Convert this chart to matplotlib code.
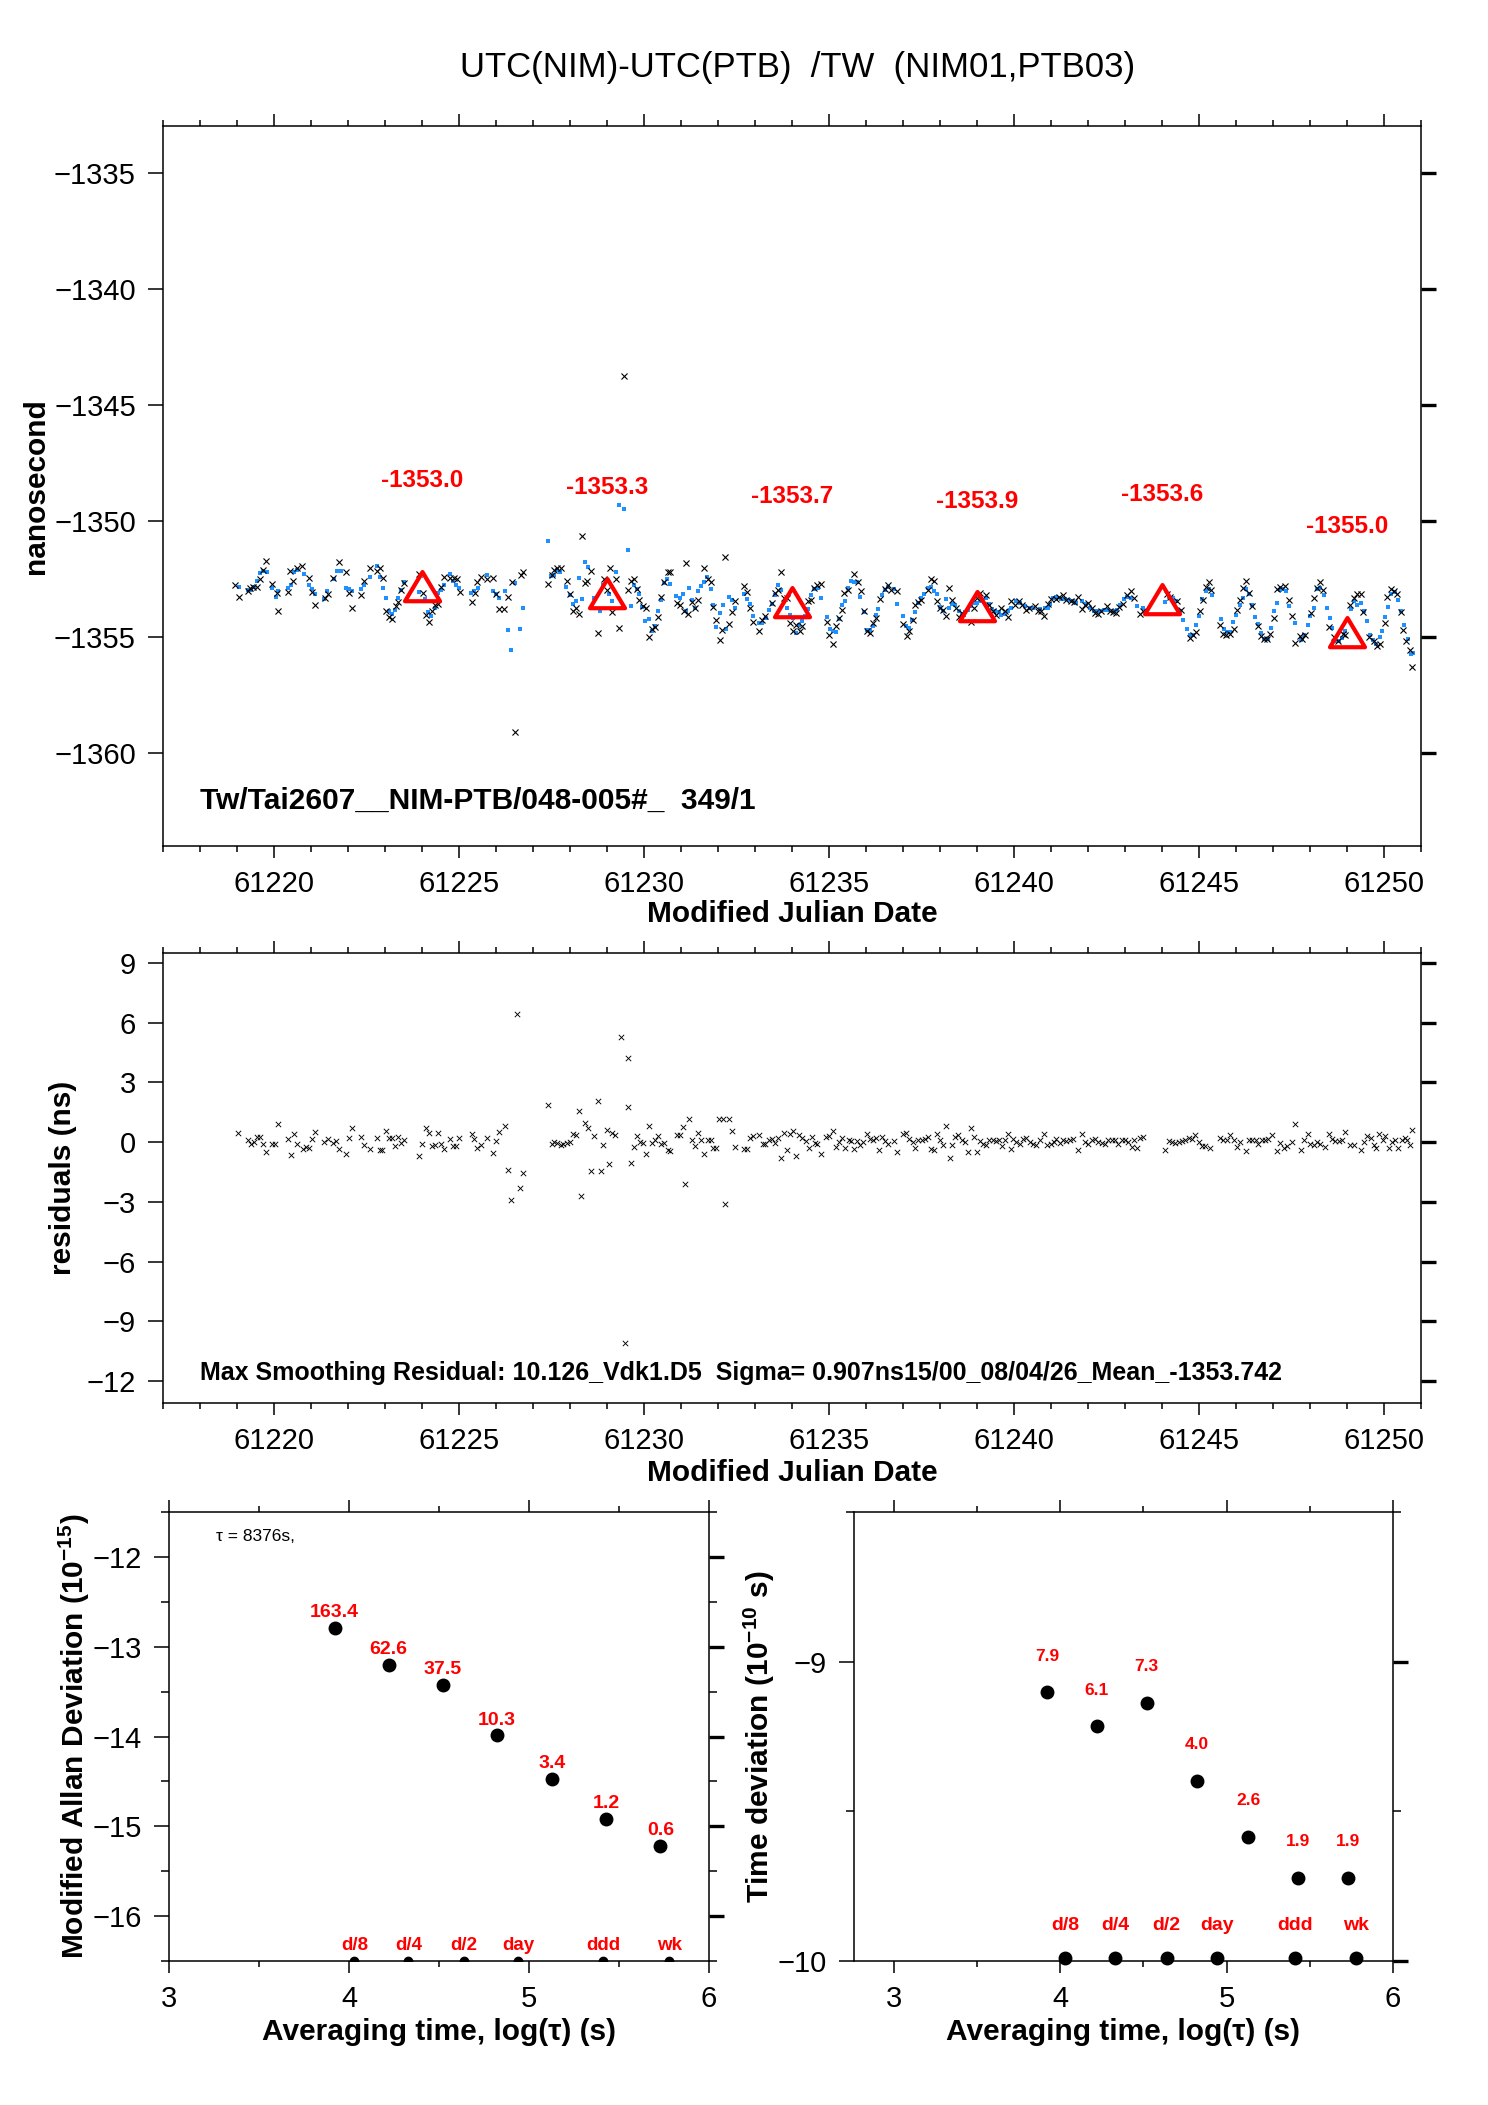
import numpy as np
import matplotlib
matplotlib.use('Agg')
import matplotlib.pyplot as plt
from matplotlib.path import Path
from matplotlib.ticker import MultipleLocator

plt.rcParams['font.family'] = ['Liberation Sans', 'DejaVu Sans']
plt.rcParams['mathtext.fontset'] = 'custom'
plt.rcParams['mathtext.rm'] = 'Liberation Sans'
plt.rcParams['mathtext.bf'] = 'Liberation Sans:bold'
plt.rcParams['axes.formatter.useoffset'] = False

# raw TW measurements (MJD, ns), black crosses
raw_pts = [
    (61218.95, -1352.75), (61219.05, -1353.26), (61219.29, -1353.01), (61219.36, -1352.90), (61219.43, -1352.83),
    (61219.53, -1352.83), (61219.62, -1352.51), (61219.71, -1352.11), (61219.79, -1351.72), (61219.96, -1352.70),
    (61220.07, -1353.11), (61220.12, -1353.90), (61220.37, -1353.05), (61220.43, -1352.14), (61220.52, -1352.57),
    (61220.61, -1352.04), (61220.77, -1351.94), (61220.95, -1352.48), (61221.04, -1353.07), (61221.12, -1353.64),
    (61221.37, -1353.33), (61221.46, -1353.15), (61221.61, -1352.47), (61221.77, -1351.78), (61221.95, -1352.22),
    (61222.03, -1353.11), (61222.11, -1353.76), (61222.36, -1353.18), (61222.44, -1352.58), (61222.61, -1352.04),
    (61222.78, -1352.14), (61222.87, -1352.04), (61222.95, -1352.48), (61223.03, -1353.86), (61223.12, -1354.16),
    (61223.20, -1354.21), (61223.29, -1353.66), (61223.36, -1353.51), (61223.44, -1352.97), (61223.51, -1352.68),
    (61223.93, -1352.30), (61224.03, -1353.11), (61224.10, -1354.07), (61224.18, -1354.36), (61224.27, -1353.87),
    (61224.34, -1353.64), (61224.43, -1353.58), (61224.51, -1352.85), (61224.61, -1352.41), (61224.76, -1352.44),
    (61224.87, -1352.44), (61224.95, -1352.51), (61225.02, -1353.07), (61225.34, -1353.48), (61225.43, -1353.11),
    (61225.50, -1352.63), (61225.59, -1352.41), (61225.75, -1352.51), (61225.93, -1352.47), (61226.00, -1353.15),
    (61226.08, -1353.78), (61226.23, -1353.78), (61226.33, -1353.28), (61226.43, -1352.63), (61226.51, -1359.09),
    (61226.67, -1352.33), (61226.74, -1352.18), (61227.41, -1352.70), (61227.51, -1352.33), (61227.58, -1352.11),
    (61227.66, -1352.04), (61227.75, -1352.04), (61227.91, -1352.61), (61227.99, -1353.15), (61228.08, -1353.90),
    (61228.17, -1353.76), (61228.24, -1354.01), (61228.33, -1350.64), (61228.40, -1352.68), (61228.47, -1352.61),
    (61228.58, -1352.14), (61228.75, -1354.83), (61228.92, -1352.51), (61229.00, -1352.97), (61229.07, -1352.04),
    (61229.15, -1353.94), (61229.24, -1352.50), (61229.32, -1354.61), (61229.47, -1343.76), (61229.58, -1352.98),
    (61229.66, -1352.57), (61229.73, -1352.51), (61229.82, -1352.95), (61229.88, -1353.40), (61229.97, -1353.68),
    (61230.06, -1353.76), (61230.13, -1355.01), (61230.22, -1354.66), (61230.31, -1354.59), (61230.38, -1354.16),
    (61230.47, -1353.26), (61230.55, -1352.65), (61230.64, -1352.22), (61230.71, -1352.21), (61230.89, -1353.54),
    (61230.97, -1353.64), (61231.07, -1353.90), (61231.14, -1351.80), (61231.20, -1354.01), (61231.29, -1353.50),
    (61231.38, -1353.73), (61231.47, -1353.40), (61231.63, -1352.02), (61231.72, -1352.51), (61231.81, -1352.65),
    (61231.87, -1353.71), (61231.96, -1354.26), (61232.05, -1355.13), (61232.11, -1354.70), (61232.20, -1351.57),
    (61232.29, -1354.44), (61232.38, -1353.94), (61232.45, -1353.44), (61232.70, -1352.80), (61232.79, -1353.05),
    (61232.87, -1353.73), (61232.95, -1354.36), (61233.12, -1354.73), (61233.20, -1354.26), (61233.28, -1354.08),
    (61233.46, -1353.54), (61233.53, -1353.11), (61233.62, -1352.97), (61233.71, -1352.18), (61233.79, -1353.30),
    (61233.87, -1353.33), (61233.94, -1354.40), (61234.02, -1354.76), (61234.12, -1354.47), (61234.21, -1354.76),
    (61234.28, -1354.54), (61234.44, -1353.47), (61234.52, -1353.40), (61234.61, -1352.90), (61234.69, -1352.75),
    (61234.78, -1352.70), (61234.94, -1354.37), (61235.01, -1354.90), (61235.10, -1355.29), (61235.19, -1354.53),
    (61235.26, -1354.18), (61235.35, -1353.84), (61235.42, -1353.11), (61235.51, -1352.98), (61235.68, -1352.28),
    (61235.78, -1352.65), (61235.87, -1353.01), (61235.94, -1353.90), (61236.02, -1354.76), (61236.11, -1354.83),
    (61236.20, -1354.40), (61236.28, -1354.18), (61236.37, -1353.36), (61236.51, -1352.94), (61236.60, -1352.75),
    (61236.69, -1352.97), (61236.85, -1353.01), (61237.01, -1354.44), (61237.10, -1354.96), (61237.17, -1354.76),
    (61237.26, -1354.26), (61237.34, -1353.64), (61237.42, -1353.50), (61237.50, -1353.41), (61237.67, -1352.97),
    (61237.76, -1352.51), (61237.85, -1352.61), (61237.92, -1353.47), (61238.01, -1353.76), (61238.08, -1353.83),
    (61238.17, -1354.11), (61238.25, -1352.87), (61238.34, -1353.40), (61238.43, -1353.73), (61238.52, -1354.16),
    (61238.60, -1353.97), (61238.84, -1354.37), (61238.91, -1353.76), (61239.00, -1353.33), (61239.09, -1353.11),
    (61239.25, -1353.21), (61239.34, -1353.64), (61239.43, -1353.87), (61239.51, -1354.04), (61239.66, -1353.76),
    (61239.75, -1353.90), (61239.84, -1354.13), (61239.91, -1353.47), (61240.02, -1353.61), (61240.14, -1353.44),
    (61240.23, -1353.64), (61240.34, -1353.83), (61240.41, -1353.76), (61240.57, -1353.68), (61240.66, -1353.87),
    (61240.73, -1353.90), (61240.82, -1354.08), (61240.91, -1353.56), (61241.00, -1353.37), (61241.13, -1353.37),
    (61241.22, -1353.27), (61241.33, -1353.21), (61241.42, -1353.40), (61241.53, -1353.47), (61241.63, -1353.51),
    (61241.74, -1353.27), (61241.83, -1353.78), (61241.92, -1353.64), (61242.01, -1353.54), (61242.10, -1353.73),
    (61242.19, -1353.97), (61242.26, -1354.00), (61242.35, -1353.87), (61242.51, -1353.68), (61242.60, -1353.87),
    (61242.69, -1353.94), (61242.76, -1353.97), (61242.85, -1353.71), (61242.94, -1353.58), (61243.07, -1353.18),
    (61243.16, -1353.01), (61243.25, -1353.30), (61243.41, -1354.00), (61243.50, -1353.87), (61244.13, -1353.15),
    (61244.22, -1353.26), (61244.40, -1353.47), (61244.52, -1353.83), (61244.76, -1355.04), (61244.85, -1354.90),
    (61244.92, -1354.79), (61245.02, -1353.90), (61245.10, -1353.40), (61245.18, -1352.83), (61245.27, -1352.64),
    (61245.34, -1352.97), (61245.58, -1354.47), (61245.65, -1354.87), (61245.74, -1354.93), (61245.83, -1354.87),
    (61245.94, -1354.66), (61246.03, -1353.83), (61246.10, -1353.41), (61246.19, -1352.90), (61246.27, -1352.58),
    (61246.35, -1353.11), (61246.43, -1353.68), (61246.61, -1354.54), (61246.68, -1354.94), (61246.75, -1355.09),
    (61246.84, -1355.09), (61246.93, -1354.87), (61247.02, -1354.18), (61247.11, -1352.94), (61247.20, -1352.85),
    (61247.34, -1352.80), (61247.43, -1353.40), (61247.52, -1354.11), (61247.61, -1355.26), (61247.74, -1354.97),
    (61247.79, -1355.09), (61247.88, -1354.93), (61248.03, -1353.97), (61248.10, -1353.33), (61248.19, -1352.90),
    (61248.28, -1352.65), (61248.35, -1352.97), (61248.51, -1354.57), (61248.64, -1355.02), (61248.75, -1355.16),
    (61248.90, -1354.87), (61248.96, -1354.90), (61249.09, -1353.61), (61249.18, -1353.30), (61249.27, -1353.15),
    (61249.37, -1353.15), (61249.44, -1353.93), (61249.59, -1355.02), (61249.73, -1355.19), (61249.82, -1355.40),
    (61249.89, -1355.30), (61250.04, -1354.40), (61250.09, -1353.26), (61250.18, -1352.94), (61250.27, -1353.01),
    (61250.36, -1353.15), (61250.45, -1353.94), (61250.52, -1354.69), (61250.61, -1355.19), (61250.70, -1355.54),
    (61250.77, -1356.29),
]

# smoothed series (MJD, ns), blue dots
smooth_pts = [
    (61219.05, -1352.83), (61219.30, -1352.96), (61219.39, -1352.98), (61219.46, -1352.83), (61219.54, -1352.61),
    (61219.62, -1352.25), (61219.71, -1352.15), (61219.81, -1352.22), (61219.96, -1352.87), (61220.05, -1353.26),
    (61220.12, -1353.04), (61220.37, -1352.91), (61220.45, -1352.78), (61220.54, -1352.18), (61220.63, -1352.11),
    (61220.80, -1352.27), (61220.95, -1352.78), (61221.03, -1352.93), (61221.12, -1353.13), (61221.36, -1353.37),
    (61221.44, -1353.04), (61221.62, -1352.51), (61221.71, -1352.14), (61221.80, -1352.17), (61221.95, -1352.87),
    (61222.03, -1352.94), (61222.11, -1353.04), (61222.35, -1352.94), (61222.43, -1352.78), (61222.61, -1352.40),
    (61222.78, -1351.94), (61222.87, -1352.40), (61222.94, -1352.91), (61223.03, -1353.33), (61223.11, -1353.90),
    (61223.19, -1354.03), (61223.27, -1353.83), (61223.36, -1353.30), (61223.44, -1352.98), (61223.52, -1352.64),
    (61223.93, -1353.05), (61224.09, -1353.35), (61224.17, -1353.94), (61224.25, -1354.11), (61224.34, -1353.73),
    (61224.43, -1353.10), (61224.51, -1352.97), (61224.61, -1352.74), (61224.76, -1352.27), (61224.85, -1352.57),
    (61224.93, -1352.74), (61225.00, -1352.88), (61225.33, -1353.11), (61225.42, -1353.01), (61225.51, -1352.91),
    (61225.75, -1352.31), (61225.91, -1353.03), (61226.00, -1353.15), (61226.08, -1353.33), (61226.25, -1353.03),
    (61226.33, -1354.71), (61226.41, -1355.54), (61226.51, -1352.67), (61226.66, -1354.64), (61226.74, -1353.77),
    (61227.41, -1350.87), (61227.50, -1352.37), (61227.57, -1352.33), (61227.66, -1352.11), (61227.74, -1352.18),
    (61227.90, -1352.83), (61227.99, -1353.21), (61228.07, -1353.56), (61228.16, -1353.47), (61228.25, -1352.48),
    (61228.33, -1353.37), (61228.41, -1351.78), (61228.49, -1351.97), (61228.65, -1353.30), (61228.81, -1353.86),
    (61228.90, -1352.75), (61229.06, -1353.15), (61229.15, -1353.47), (61229.24, -1352.18), (61229.32, -1349.30),
    (61229.40, -1353.77), (61229.45, -1349.50), (61229.56, -1351.24), (61229.64, -1353.66), (61229.72, -1352.78),
    (61229.80, -1352.93), (61229.88, -1353.16), (61229.95, -1353.70), (61230.04, -1354.33), (61230.13, -1354.23),
    (61230.22, -1354.76), (61230.31, -1354.54), (61230.39, -1353.90), (61230.47, -1353.41), (61230.55, -1352.67),
    (61230.63, -1352.51), (61230.71, -1352.73), (61230.88, -1353.23), (61230.97, -1353.33), (61231.05, -1353.14),
    (61231.14, -1353.90), (61231.22, -1352.87), (61231.31, -1353.40), (61231.38, -1353.76), (61231.46, -1353.00),
    (61231.55, -1352.80), (61231.63, -1352.64), (61231.71, -1352.40), (61231.80, -1352.94), (61231.87, -1353.61),
    (61231.96, -1354.59), (61232.05, -1353.97), (61232.13, -1353.64), (61232.21, -1354.66), (61232.29, -1353.26),
    (61232.37, -1353.41), (61232.45, -1353.73), (61232.70, -1353.13), (61232.79, -1353.38), (61232.87, -1353.57),
    (61232.95, -1354.10), (61233.12, -1354.40), (61233.20, -1354.41), (61233.29, -1354.18), (61233.37, -1353.83),
    (61233.45, -1353.58), (61233.53, -1353.18), (61233.62, -1352.77), (61233.71, -1352.97), (61233.88, -1353.76),
    (61233.96, -1354.04), (61234.04, -1354.18), (61234.11, -1354.84), (61234.20, -1354.47), (61234.28, -1354.29),
    (61234.36, -1354.10), (61234.44, -1353.80), (61234.52, -1353.21), (61234.61, -1352.93), (61234.70, -1352.91),
    (61234.78, -1353.33), (61234.95, -1354.13), (61235.03, -1354.66), (61235.11, -1354.76), (61235.19, -1354.80),
    (61235.27, -1354.21), (61235.35, -1353.64), (61235.43, -1353.43), (61235.52, -1352.87), (61235.60, -1352.58),
    (61235.68, -1352.64), (61235.76, -1352.65), (61235.85, -1353.28), (61235.94, -1353.94), (61236.02, -1354.70),
    (61236.11, -1354.70), (61236.19, -1354.51), (61236.26, -1354.06), (61236.34, -1353.80), (61236.43, -1353.20),
    (61236.51, -1352.97), (61236.60, -1352.85), (61236.76, -1352.93), (61236.85, -1353.56), (61237.01, -1354.11),
    (61237.09, -1354.54), (61237.17, -1354.61), (61237.25, -1354.27), (61237.33, -1353.94), (61237.41, -1353.54),
    (61237.50, -1353.33), (61237.58, -1353.15), (61237.67, -1352.90), (61237.75, -1352.83), (61237.83, -1353.04),
    (61237.92, -1353.13), (61238.01, -1353.70), (61238.08, -1353.87), (61238.17, -1353.36), (61238.25, -1353.73),
    (61238.34, -1353.58), (61238.42, -1353.61), (61238.51, -1353.88), (61238.59, -1354.01), (61238.67, -1353.94),
    (61238.75, -1353.83), (61238.84, -1353.67), (61238.92, -1353.53), (61239.00, -1353.54), (61239.09, -1353.44),
    (61239.25, -1353.33), (61239.32, -1353.57), (61239.41, -1353.80), (61239.50, -1353.90), (61239.59, -1353.94),
    (61239.66, -1354.04), (61239.75, -1354.01), (61239.84, -1353.90), (61239.93, -1353.73), (61240.05, -1353.47),
    (61240.16, -1353.54), (61240.30, -1353.68), (61240.43, -1353.76), (61240.52, -1353.76), (61240.70, -1353.78),
    (61240.84, -1353.73), (61240.93, -1353.73), (61240.97, -1353.56), (61241.06, -1353.33), (61241.15, -1353.28),
    (61241.27, -1353.36), (61241.38, -1353.37), (61241.50, -1353.41), (61241.59, -1353.47), (61241.69, -1353.54),
    (61241.83, -1353.47), (61241.95, -1353.58), (61242.06, -1353.76), (61242.16, -1353.87), (61242.25, -1353.90),
    (61242.34, -1353.86), (61242.43, -1353.83), (61242.55, -1353.84), (61242.67, -1353.87), (61242.78, -1353.83),
    (61242.88, -1353.61), (61242.97, -1353.36), (61243.07, -1353.27), (61243.16, -1353.30), (61243.34, -1353.67),
    (61243.50, -1353.73), (61244.09, -1353.51), (61244.20, -1353.26), (61244.29, -1353.33), (61244.38, -1353.44),
    (61244.49, -1353.86), (61244.58, -1354.26), (61244.67, -1354.66), (61244.76, -1354.93), (61244.83, -1354.90),
    (61244.92, -1354.50), (61245.00, -1354.08), (61245.09, -1353.37), (61245.18, -1353.04), (61245.27, -1352.94),
    (61245.35, -1353.21), (61245.59, -1354.23), (61245.67, -1354.66), (61245.76, -1354.80), (61245.85, -1354.80),
    (61245.93, -1354.37), (61246.01, -1354.04), (61246.10, -1353.64), (61246.18, -1353.33), (61246.26, -1352.94),
    (61246.35, -1353.16), (61246.44, -1353.64), (61246.51, -1354.13), (61246.59, -1354.44), (61246.68, -1354.84),
    (61246.77, -1355.07), (61246.86, -1355.07), (61246.94, -1354.61), (61247.02, -1353.90), (61247.10, -1353.53),
    (61247.18, -1352.97), (61247.27, -1352.93), (61247.36, -1353.01), (61247.43, -1353.68), (61247.61, -1354.40),
    (61247.76, -1355.11), (61247.85, -1354.90), (61247.94, -1354.47), (61248.01, -1354.11), (61248.10, -1353.76),
    (61248.19, -1352.94), (61248.28, -1352.87), (61248.37, -1353.18), (61248.45, -1353.76), (61248.53, -1354.18),
    (61248.61, -1354.61), (61248.69, -1355.19), (61248.78, -1355.19), (61248.87, -1355.04), (61248.96, -1354.73),
    (61249.11, -1353.80), (61249.20, -1353.44), (61249.28, -1353.61), (61249.37, -1353.54), (61249.46, -1353.90),
    (61249.53, -1354.33), (61249.62, -1354.93), (61249.71, -1355.14), (61249.80, -1355.30), (61249.89, -1355.01),
    (61249.94, -1354.76), (61250.04, -1354.13), (61250.12, -1353.70), (61250.20, -1353.15), (61250.29, -1353.08),
    (61250.38, -1353.40), (61250.47, -1353.90), (61250.54, -1354.50), (61250.65, -1355.07), (61250.72, -1355.73),
    (61250.78, -1355.69),
]

# smoothing residuals (MJD, ns)
resid_pts = [
    (61219.03, 0.46), (61219.29, 0.12), (61219.38, -0.08), (61219.45, 0.01), (61219.54, 0.26), (61219.63, 0.26),
    (61219.71, -0.08), (61219.79, -0.49), (61219.96, -0.11), (61220.03, -0.11), (61220.12, 0.89), (61220.37, 0.17),
    (61220.46, -0.66), (61220.54, 0.42), (61220.61, -0.08), (61220.78, -0.33), (61220.87, -0.24), (61220.96, -0.28),
    (61221.03, 0.17), (61221.11, 0.52), (61221.36, 0.01), (61221.45, 0.14), (61221.60, -0.04), (61221.69, 0.06),
    (61221.77, -0.33), (61221.94, -0.58), (61222.02, 0.21), (61222.11, 0.72), (61222.36, 0.26), (61222.43, -0.16),
    (61222.61, -0.33), (61222.78, 0.19), (61222.86, -0.38), (61222.93, -0.38), (61223.03, 0.54), (61223.11, 0.22),
    (61223.20, 0.22), (61223.27, -0.21), (61223.36, 0.26), (61223.44, -0.04), (61223.52, 0.09), (61223.93, -0.71),
    (61224.01, -0.08), (61224.10, 0.71), (61224.19, 0.46), (61224.27, -0.21), (61224.35, -0.16), (61224.43, 0.46),
    (61224.52, -0.08), (61224.60, -0.33), (61224.76, 0.16), (61224.85, -0.21), (61224.93, -0.21), (61225.00, 0.22),
    (61225.34, 0.42), (61225.41, 0.14), (61225.50, -0.29), (61225.59, -0.14), (61225.75, 0.22), (61225.92, -0.54),
    (61226.00, 0.07), (61226.08, 0.51), (61226.24, 0.79), (61226.33, -1.38), (61226.40, -2.91), (61226.57, 6.45),
    (61226.66, -2.28), (61226.74, -1.53), (61227.41, 1.84), (61227.51, -0.08), (61227.58, 0.01), (61227.66, -0.03),
    (61227.75, -0.16), (61227.82, -0.08), (61227.91, -0.04), (61227.99, 0.01), (61228.08, 0.42), (61228.16, 0.34),
    (61228.24, 1.54), (61228.31, -2.71), (61228.40, 0.96), (61228.49, 0.71), (61228.58, -1.46), (61228.66, 0.29),
    (61228.75, 2.04), (61228.83, -1.46), (61228.90, -0.16), (61228.99, 0.62), (61229.06, -1.11), (61229.15, 0.46),
    (61229.22, 0.34), (61229.39, 5.30), (61229.49, -10.09), (61229.56, 1.76), (61229.57, 4.20), (61229.65, -1.04),
    (61229.72, -0.24), (61229.82, 0.29), (61229.90, 0.01), (61229.97, -0.04), (61230.06, -0.58), (61230.13, 0.81),
    (61230.22, -0.04), (61230.31, 0.09), (61230.38, 0.29), (61230.47, -0.11), (61230.55, -0.04), (61230.64, -0.41),
    (61230.71, -0.44), (61230.89, 0.37), (61230.97, 0.37), (61231.05, 0.76), (61231.12, -2.08), (61231.21, 1.14),
    (61231.30, 0.12), (61231.38, -0.21), (61231.47, 0.46), (61231.55, 0.09), (61231.63, -0.61), (61231.72, 0.09),
    (61231.81, 0.09), (61231.86, -0.28), (61231.96, -0.29), (61232.04, 1.14), (61232.13, 1.14), (61232.20, -3.11),
    (61232.29, 1.17), (61232.38, 0.54), (61232.45, -0.24), (61232.70, -0.33), (61232.79, -0.33), (61232.87, 0.22),
    (61232.96, 0.29), (61233.12, 0.37), (61233.21, -0.11), (61233.28, -0.08), (61233.37, 0.09), (61233.46, 0.17),
    (61233.55, -0.04), (61233.62, 0.22), (61233.71, -0.78), (61233.79, 0.46), (61233.87, -0.41), (61233.96, 0.39),
    (61234.03, 0.54), (61234.12, -0.71), (61234.20, 0.34), (61234.28, 0.22), (61234.37, 0.04), (61234.46, -0.29),
    (61234.53, 0.26), (61234.62, -0.04), (61234.69, -0.08), (61234.78, -0.61), (61234.92, 0.26), (61235.01, 0.29),
    (61235.10, 0.56), (61235.19, -0.24), (61235.27, 0.01), (61235.35, 0.22), (61235.44, -0.28), (61235.53, 0.09),
    (61235.60, 0.04), (61235.68, -0.33), (61235.77, 0.04), (61235.84, -0.16), (61235.93, 0.01), (61236.02, 0.42),
    (61236.11, 0.17), (61236.19, 0.12), (61236.28, 0.22), (61236.35, -0.41), (61236.43, 0.26), (61236.51, 0.06),
    (61236.60, -0.08), (61236.76, 0.06), (61236.83, -0.49), (61237.01, 0.42), (61237.08, 0.46), (61237.17, 0.17),
    (61237.26, 0.01), (61237.34, -0.28), (61237.42, 0.12), (61237.51, 0.09), (61237.59, 0.17), (61237.67, 0.26),
    (61237.76, -0.33), (61237.85, -0.41), (61237.92, 0.39), (61238.01, 0.12), (61238.08, -0.16), (61238.17, 0.79),
    (61238.26, -0.78), (61238.34, -0.16), (61238.42, 0.26), (61238.50, 0.34), (61238.59, 0.09), (61238.67, 0.01),
    (61238.75, -0.49), (61238.84, 0.72), (61238.91, 0.26), (61239.00, -0.49), (61239.09, 0.04), (61239.17, -0.08),
    (61239.25, -0.16), (61239.34, 0.09), (61239.43, 0.12), (61239.51, 0.06), (61239.59, 0.09), (61239.67, -0.21),
    (61239.75, 0.09), (61239.83, 0.39), (61239.91, -0.33), (61239.98, 0.17), (61240.07, 0.01), (61240.16, -0.08),
    (61240.25, 0.14), (61240.34, 0.22), (61240.43, 0.01), (61240.52, -0.08), (61240.61, -0.16), (61240.70, 0.09),
    (61240.81, 0.39), (61240.90, -0.16), (61240.99, -0.08), (61241.08, 0.01), (61241.15, 0.14), (61241.24, -0.04),
    (61241.33, 0.09), (61241.42, 0.06), (61241.51, 0.12), (61241.59, 0.14), (61241.74, -0.41), (61241.83, 0.42),
    (61241.92, 0.01), (61242.01, -0.08), (61242.10, 0.12), (61242.19, 0.17), (61242.28, 0.01), (61242.37, -0.04),
    (61242.46, -0.11), (61242.55, 0.09), (61242.64, 0.12), (61242.73, 0.09), (61242.82, -0.11), (61242.91, 0.09),
    (61243.00, 0.12), (61243.09, 0.01), (61243.18, -0.24), (61243.25, 0.09), (61243.34, -0.28), (61243.41, 0.22),
    (61243.50, 0.26), (61244.09, -0.38), (61244.18, 0.06), (61244.27, 0.01), (61244.36, -0.04), (61244.45, 0.01),
    (61244.54, 0.06), (61244.63, 0.12), (61244.72, 0.22), (61244.81, 0.17), (61244.90, 0.34), (61244.99, 0.01),
    (61245.08, -0.21), (61245.17, -0.21), (61245.30, -0.28), (61245.58, 0.22), (61245.66, 0.12), (61245.76, 0.12),
    (61245.85, 0.34), (61245.94, 0.09), (61246.03, -0.24), (61246.12, 0.01), (61246.27, -0.44), (61246.35, 0.09),
    (61246.44, 0.12), (61246.53, 0.09), (61246.61, -0.08), (61246.70, 0.09), (61246.79, 0.09), (61246.88, 0.17),
    (61246.97, 0.34), (61247.11, -0.44), (61247.20, -0.04), (61247.29, -0.28), (61247.38, -0.21), (61247.51, 0.01),
    (61247.61, 0.89), (61247.76, -0.38), (61247.85, 0.12), (61247.94, 0.39), (61248.01, -0.08), (61248.10, -0.16),
    (61248.19, 0.01), (61248.28, -0.08), (61248.42, -0.24), (61248.51, 0.39), (61248.60, 0.17), (61248.69, 0.06),
    (61248.78, 0.06), (61248.87, 0.12), (61248.94, 0.51), (61249.09, -0.16), (61249.18, -0.16), (61249.37, -0.41),
    (61249.46, 0.01), (61249.55, 0.29), (61249.64, 0.22), (61249.73, -0.16), (61249.80, -0.28), (61249.88, 0.42),
    (61249.97, 0.12), (61250.04, 0.29), (61250.13, -0.28), (61250.22, 0.01), (61250.30, 0.09), (61250.39, -0.28),
    (61250.48, 0.09), (61250.57, 0.22), (61250.63, 0.12), (61250.70, -0.16), (61250.77, 0.59),
]

# 5-day means
mean_mjd = [61224, 61229, 61234, 61239, 61244, 61249]
mean_ns = [-1353.0, -1353.3, -1353.7, -1353.9, -1353.6, -1355.0]

# stability
log_tau = [3.92, 4.22, 4.52, 4.82, 5.13, 5.43, 5.73]
mdev_e15 = [163.4, 62.6, 37.5, 10.3, 3.4, 1.2, 0.6]
tdev_e10 = [7.9, 6.1, 7.3, 4.0, 2.6, 1.9, 1.9]
mark_names = ['d/8', 'd/4', 'd/2', 'day', 'ddd', 'wk']
mark_logtau = [4.03, 4.33, 4.64, 4.94, 5.41, 5.78]

raw_mjd, raw_ns = zip(*raw_pts)
sm_mjd, sm_ns = zip(*smooth_pts)
res_mjd, res_ns = zip(*resid_pts)

BLUE = '#1E90FF'
LAB = 21.5

# triangle with centroid at the data point
tri = Path([(0, 1), (-0.9, -0.5), (0.9, -0.5), (0, 1)],
           [Path.MOVETO, Path.LINETO, Path.LINETO, Path.CLOSEPOLY])


def style(ax, xmaj, xmin, ymaj, ymin=None):
    ax.xaxis.set_major_locator(MultipleLocator(xmaj))
    ax.xaxis.set_minor_locator(MultipleLocator(xmin))
    ax.yaxis.set_major_locator(MultipleLocator(ymaj))
    if ymin:
        ax.yaxis.set_minor_locator(MultipleLocator(ymin))
    else:
        ax.tick_params(axis='y', which='minor', left=False, right=False)
    ax.tick_params(which='both', direction='out', top=True, right=True,
                   labelsize=21, width=1.1)
    ax.tick_params(axis='x', which='major', length=8.5, pad=8.5)
    ax.tick_params(axis='x', which='minor', length=4.5)
    ax.tick_params(axis='y', which='major', length=10.5, pad=9)
    ax.tick_params(axis='y', which='minor', length=6)
    for s in ax.spines.values():
        s.set_linewidth(1.1)
    # right-hand major ticks are drawn heavier
    for t in ax.yaxis.get_major_ticks():
        t.tick2line.set_markeredgewidth(2.4)


fig = plt.figure(figsize=(14.88, 21.05), dpi=100)

fig.text(0.536, 0.9677, 'UTC(NIM)-UTC(PTB)  /TW  (NIM01,PTB03)',
         fontsize=25, ha='center', va='center')

# ---- time series ----
ax1 = fig.add_axes([0.1095, 0.5981, 0.8454, 0.3420])
ax1.scatter(sm_mjd, sm_ns, marker='s', s=7, c=BLUE, linewidths=0, zorder=2)
ax1.scatter(raw_mjd, raw_ns, marker='x', s=19, c='black', linewidths=0.8, zorder=3)
ax1.plot(mean_mjd, mean_ns, linestyle='none', marker=tri, ms=28,
         mfc='none', mec='red', mew=3, zorder=4)
for m, v in zip(mean_mjd, mean_ns):
    ax1.text(m, v + 4.75, f'{v:.1f}', color='red', fontsize=17.5,
             fontweight='bold', ha='center', va='center')
ax1.text(61218.0, -1362.06, 'Tw/Tai2607__NIM-PTB/048-005#_  349/1',
         fontsize=21.5, fontweight='bold', va='center')
ax1.set_xlim(61217, 61251)
ax1.set_ylim(-1364, -1333)
style(ax1, 5, 1, 5)
ax1.set_xlabel('Modified Julian Date', fontsize=LAB, fontweight='bold')
ax1.set_ylabel('nanosecond', fontsize=LAB, fontweight='bold')
ax1.xaxis.set_label_coords(0.5, -0.075)
ax1.yaxis.set_label_coords(-0.090, 0.5)

# ---- residuals ----
ax2 = fig.add_axes([0.1095, 0.3335, 0.8454, 0.2138])
ax2.scatter(res_mjd, res_ns, marker='x', s=15, c='black', linewidths=0.65)
ax2.text(61218.0, -11.6,
         'Max Smoothing Residual: 10.126_Vdk1.D5  Sigma= 0.907ns15/00_08/04/26_Mean_-1353.742',
         fontsize=18, fontweight='bold', va='center')
ax2.set_xlim(61217, 61251)
ax2.set_ylim(-13.1, 9.5)
style(ax2, 5, 1, 3)
ax2.set_xlabel('Modified Julian Date', fontsize=LAB, fontweight='bold')
ax2.set_ylabel('residuals (ns)', fontsize=LAB, fontweight='bold')
ax2.xaxis.set_label_coords(0.5, -0.124)
ax2.yaxis.set_label_coords(-0.068, 0.5)

# ---- modified Allan deviation ----
ax3 = fig.add_axes([0.1136, 0.0684, 0.3629, 0.2133])
mdev_log = np.log10(np.array(mdev_e15) * 1e-15)
ax3.plot(log_tau, mdev_log, 'o', color='black', ms=9)
for x, y, v in zip(log_tau, mdev_log, mdev_e15):
    ax3.text(x, y + 0.17, f'{v:.1f}', color='red', fontsize=14,
             fontweight='bold', ha='center', va='center')
xt3 = ax3.get_xaxis_transform()
ax3.plot(mark_logtau, [0] * len(mark_logtau), 'o', color='black', ms=6,
         transform=xt3)
for x, n in zip(mark_logtau, mark_names):
    ax3.text(x, 0.035, n, color='red', fontsize=13.5, fontweight='bold',
             ha='center', va='center', transform=xt3)
ax3.text(0.087, 0.945, 'τ = 8376s,', fontsize=12.5, transform=ax3.transAxes,
         va='center')
ax3.set_xlim(3, 6)
ax3.set_ylim(-16.5, -11.5)
style(ax3, 1, 0.5, 1, 0.5)
ax3.set_xlabel('Averaging time, log(τ) (s)', fontsize=LAB, fontweight='bold')
ax3.set_ylabel(r'Modified Allan Deviation (10$^{\mathbf{-15}}$)',
               fontsize=LAB, fontweight='bold')
ax3.xaxis.set_label_coords(0.5, -0.126)
ax3.yaxis.set_label_coords(-0.143, 0.5)

# ---- time deviation ----
ax4 = fig.add_axes([0.5739, 0.0684, 0.3622, 0.2133])
tdev_log = np.log10(np.array(tdev_e10) * 1e-10)
ax4.plot(log_tau, tdev_log, 'o', color='black', ms=9)
for x, y, v in zip(log_tau, tdev_log, tdev_e10):
    ax4.text(x, y + 0.12, f'{v:.1f}', color='red', fontsize=12.5,
             fontweight='bold', ha='center', va='center')
xt4 = ax4.get_xaxis_transform()
ax4.plot(mark_logtau, [0.007] * len(mark_logtau), 'o', color='black', ms=9,
         transform=xt4, clip_on=False)
for x, n in zip(mark_logtau, mark_names):
    ax4.text(x, 0.08, n, color='red', fontsize=14, fontweight='bold',
             ha='center', va='center', transform=xt4)
ax4.set_xlim(2.76, 6)
ax4.set_ylim(-10, -8.5)
style(ax4, 1, 0.5, 1, 0.5)
ax4.set_xlabel('Averaging time, log(τ) (s)', fontsize=LAB, fontweight='bold')
ax4.set_ylabel(r'Time deviation (10$^{\mathbf{-10}}$ s)',
               fontsize=LAB, fontweight='bold')
ax4.xaxis.set_label_coords(0.5, -0.126)
ax4.yaxis.set_label_coords(-0.143, 0.5)

fig.savefig('out.png', dpi=100)
